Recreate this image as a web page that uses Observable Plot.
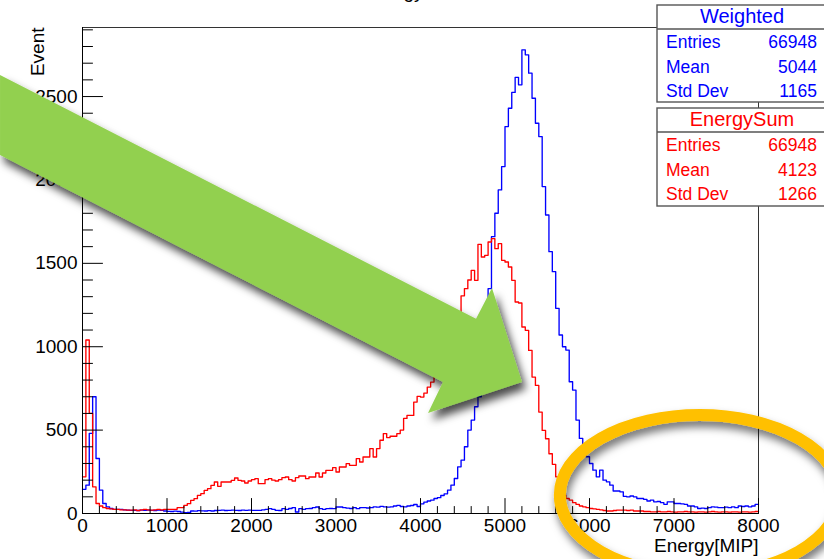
<!DOCTYPE html>
<html><head><meta charset="utf-8">
<script src="https://cdn.jsdelivr.net/npm/d3@7"></script>
<script src="https://cdn.jsdelivr.net/npm/@observablehq/plot@0.6"></script>
<style>
html,body{margin:0;padding:0;background:#fff;}
#chart{width:824px;height:559px;overflow:hidden;position:relative;}
</style></head><body><div id="chart"></div>
<script>
// ---------- data ----------
const binWidth = 40;           // 200 bins from 0 to 8000
const xDomain = [0, 8000];
const yDomain = [0, 2914];

const redCounts = [
  220,1040,600,160,60,45,35,30,28,25,
  25,22,22,20,20,22,18,22,25,22,
  20,22,25,22,25,25,25,25,35,35,
  49,59,79,89,109,119,139,149,169,189,
  163,189,189,189,199,213,199,195,183,195,
  203,209,179,179,203,209,200,195,203,215,
  219,203,195,215,225,225,209,219,219,243,
  219,243,259,259,275,249,279,279,299,289,
  289,329,309,339,339,389,339,389,439,479,
  455,463,463,479,500,570,588,588,668,702,
  698,722,758,788,830,870,900,960,1000,1060,
  1120,1180,1305,1348,1400,1458,1398,1614,1538,1548,
  1628,1648,1588,1618,1518,1508,1478,1398,1268,1262,
  1118,1098,978,818,768,608,498,448,358,295,
  220,150,110,90,80,65,55,45,40,35,
  30,28,25,22,18,15,15,18,20,20,
  20,18,20,15,15,15,12,12,10,10,
  12,10,10,12,10,8,10,10,12,10,
  10,8,10,10,8,10,12,10,8,10,
  10,8,10,10,8,10,10,8,10,12
];
const blueCounts = [
  145,170,480,700,330,140,60,40,30,25,
  25,25,22,20,19,19,18,20,19,20,
  19,18,20,19,15,13,12,14,12,8,
  5,6,15,14,17,16,15,17,15,18,
  19,20,18,19,20,19,18,20,19,20,
  19,19,19,22,25,29,25,19,18,29,
  25,30,35,9,29,25,29,30,35,39,
  29,25,29,30,29,39,39,35,32,30,
  35,29,35,35,33,35,40,38,43,40,
  38,40,45,49,42,40,45,48,54,42,
  58,68,75,80,90,95,108,118,140,170,
  210,280,320,400,500,560,640,700,880,1100,
  1348,1660,1800,1940,2080,2320,2430,2525,2615,2570,
  2780,2750,2640,2490,2340,2260,1960,1790,1570,1450,
  1230,1070,1000,980,790,740,560,450,370,340,
  300,260,220,260,200,190,170,135,135,130,
  103,100,105,100,90,90,85,75,80,70,
  72,65,55,70,70,60,60,58,55,45,
  45,40,30,32,30,35,40,38,35,35,
  38,35,40,35,45,42,45,40,45,55
];

const xTicks = [0,1000,2000,3000,4000,5000,6000,7000,8000];
const yTicks = [0,500,1000,1500,2000,2500];
const xMinorStep = 200;
const yMinorStep = 100;

const chartTitle = "Energy";
const xTitle = "Energy[MIP]";
const yTitle = "Event";

const statNames = ["Weighted", "EnergySum"];
const statLabels = ["Entries", "Mean", "Std Dev"];
const weightedStats = [66948, 5044, 1165];
const energySumStats = [66948, 4123, 1266];

// annotation overlays (in data units)
const arrowPoints = [[-970,2626],[4663,1165],[4852,1349],[5207,785],[4095,600],[4272,785],[-970,2146]];
const ovalCenter = [7310, 108];
const ovalRadii = [1655, 480];

// ---------- build ----------
const FONT = "'Liberation Sans', Arial, Helvetica, sans-serif";
function steps(counts) {
  const pts = counts.map((c, i) => ({x: i * binWidth, y: c}));
  pts.push({x: counts.length * binWidth, y: counts[counts.length - 1]});
  return pts;
}
const blueData = steps(blueCounts);
const redData = steps(redCounts);

const yMinor = d3.range(0, yDomain[1], yMinorStep).filter(v => v % 500 !== 0);
const xMinor = d3.range(0, xDomain[1], xMinorStep).filter(v => v % 1000 !== 0);

const tickShape = {draw(ctx, l) { ctx.moveTo(0, 0); ctx.lineTo(0, -l); }};

const plot = Plot.plot({
  width: 824, height: 559,
  marginLeft: 82, marginRight: 66, marginTop: 27, marginBottom: 46,
  style: {fontFamily: FONT, fontSize: "19px", background: "white", color: "black", overflow: "hidden"},
  x: {domain: xDomain},
  y: {domain: yDomain},
  marks: [
    Plot.lineY(blueData, {x: "x", y: "y", curve: "step-after", stroke: "#0000ff", strokeWidth: 1.35}),
    Plot.lineY(redData, {x: "x", y: "y", curve: "step-after", stroke: "#ff0000", strokeWidth: 1.35}),
    Plot.frame({stroke: "#333", strokeWidth: 1}),
    Plot.ruleX([0], {stroke: "black"}),
    Plot.ruleY([0], {stroke: "black"}),
    Plot.vector(yTicks, {x: () => 0, y: d => d, length: 20, rotate: 90, anchor: "start", shape: tickShape, stroke: "black", strokeWidth: 1}),
    Plot.vector(yMinor, {x: () => 0, y: d => d, length: 10, rotate: 90, anchor: "start", shape: tickShape, stroke: "black", strokeWidth: 1}),
    Plot.vector(xTicks, {x: d => d, y: () => 0, length: 15, rotate: 0, anchor: "start", shape: tickShape, stroke: "black", strokeWidth: 1}),
    Plot.vector(xMinor, {x: d => d, y: () => 0, length: 7, rotate: 0, anchor: "start", shape: tickShape, stroke: "black", strokeWidth: 1}),
    Plot.axisY({ticks: yTicks, tickSize: 0, tickPadding: 5, label: null, fontSize: 19, tickFormat: d => String(d)}),
    Plot.axisX({ticks: xTicks, tickSize: 0, tickPadding: 5, label: null, fontSize: 19, tickFormat: d => String(d)}),
    Plot.text([xTitle], {frameAnchor: "bottom-right", textAnchor: "end", lineAnchor: "bottom", dy: 38, fontSize: 19}),
    Plot.text([yTitle], {frameAnchor: "top-left", textAnchor: "end", lineAnchor: "bottom", rotate: -90, dx: -39, fontSize: 19}),
    Plot.text([chartTitle], {frameAnchor: "top", lineAnchor: "bottom", dy: -29.5, dx: -27, fontSize: 19})
  ]
});

document.getElementById("chart").appendChild(plot);

// ---------- overlays ----------
const svg = d3.select(plot);
const sx = plot.scale("x"), sy = plot.scale("y");
const defs = svg.append("defs");
const f1 = defs.append("filter").attr("id", "shadowArrow").attr("x", "-20%").attr("y", "-20%").attr("width", "150%").attr("height", "150%");
f1.append("feDropShadow").attr("dx", 4).attr("dy", 7).attr("stdDeviation", 4).attr("flood-color", "#000").attr("flood-opacity", 0.7);
const f2 = defs.append("filter").attr("id", "shadowOval").attr("x", "-20%").attr("y", "-30%").attr("width", "150%").attr("height", "170%");
f2.append("feDropShadow").attr("dx", 2).attr("dy", 6).attr("stdDeviation", 4).attr("flood-color", "#000").attr("flood-opacity", 0.55);

// stat boxes
const boxX = 657, boxW = 170;
const boxes = [
  {name: statNames[0], color: "#0000ff", values: weightedStats, top: 5, h: 97},
  {name: statNames[1], color: "#ff0000", values: energySumStats, top: 108, h: 98}
];
const gStats = svg.append("g").attr("font-family", FONT);
for (const b of boxes) {
  gStats.append("rect").attr("x", boxX).attr("y", b.top).attr("width", boxW).attr("height", b.h)
    .attr("fill", "white").attr("stroke", "#555").attr("stroke-width", 1.4);
  gStats.append("line").attr("x1", boxX).attr("x2", boxX + boxW).attr("y1", b.top + 24).attr("y2", b.top + 24)
    .attr("stroke", "#555").attr("stroke-width", 1.4);
  gStats.append("text").attr("x", boxX + 85).attr("y", b.top + 18).attr("text-anchor", "middle")
    .attr("font-size", 20).attr("fill", b.color).text(b.name);
  statLabels.forEach((lab, i) => {
    const y = b.top + 43 + i * 24.5;
    gStats.append("text").attr("x", boxX + 9).attr("y", y).attr("text-anchor", "start")
      .attr("font-size", 17.5).attr("fill", b.color).text(lab);
    gStats.append("text").attr("x", 817).attr("y", y).attr("text-anchor", "end")
      .attr("font-size", 17.5).attr("fill", b.color).text(String(b.values[i]));
  });
}

// orange oval
const cx = sx.apply(ovalCenter[0]), cy = sy.apply(ovalCenter[1]);
const rx = sx.apply(ovalCenter[0] + ovalRadii[0]) - cx;
const ry = cy - sy.apply(ovalCenter[1] + ovalRadii[1]);
svg.append("ellipse").attr("cx", cx).attr("cy", cy).attr("rx", rx).attr("ry", ry)
  .attr("fill", "none").attr("stroke", "#ffc000").attr("stroke-width", 12).attr("filter", "url(#shadowOval)");

// green arrow
const arrowPath = d3.line()(arrowPoints.map(([x, y]) => [sx.apply(x), sy.apply(y)])) + "Z";
svg.append("path").attr("d", arrowPath).attr("fill", "#92d050").attr("filter", "url(#shadowArrow)");
</script>
</body></html>
